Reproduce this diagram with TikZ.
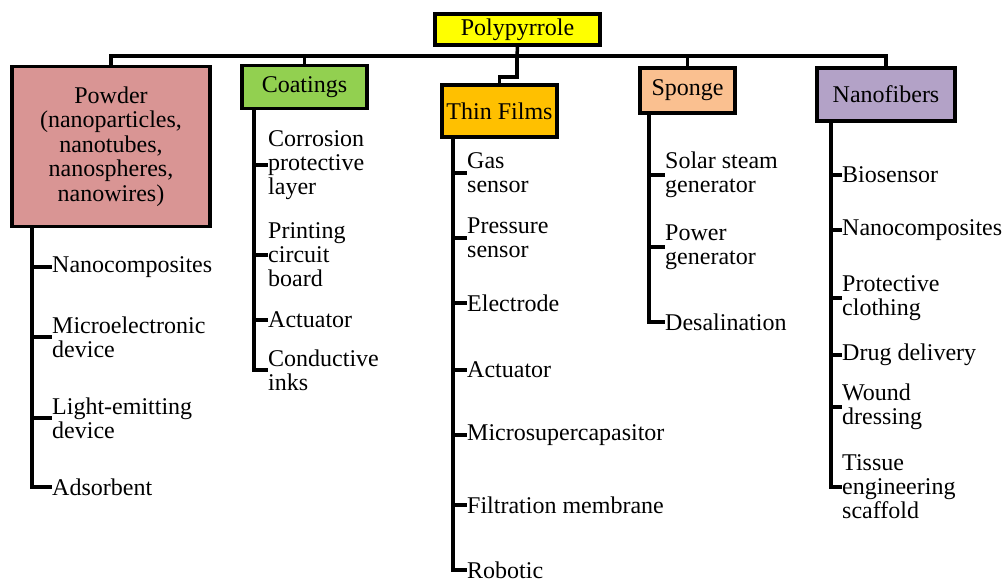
\documentclass[tikz,border=0pt]{standalone}
\usepackage{fontspec}
\setmainfont{Liberation Serif}
\usepackage{tikz}
\usetikzlibrary{calc}
\definecolor{rootyellow}{HTML}{FFFF00}
\definecolor{powderpink}{HTML}{D99594}
\definecolor{coatgreen}{HTML}{92D050}
\definecolor{filmorange}{HTML}{FFC000}
\definecolor{spongepeach}{HTML}{FAC090}
\definecolor{fiberlilac}{HTML}{B3A2C7}
\tikzset{
  catbox/.style={draw, line width=3.5pt, inner sep=0pt, align=center, font=\fontsize{24}{24.5}\selectfont},
  leaf/.style={anchor=west, inner sep=0pt, align=left, font=\fontsize{24}{24}\selectfont},
  bus/.style={line width=3.5pt},
  branch/.style={line width=4.5pt}
}

\begin{document}
\begin{tikzpicture}[x=1pt, y=-1pt]
    \useasboundingbox (0,0) rectangle (1003,580);
    % categories
    \node(root)[catbox, fill=rootyellow, minimum width=165pt, minimum height=31pt] at (517.5,29.5) {Polypyrrole};
    \node(pw)[catbox, fill=powderpink, minimum width=198pt, minimum height=160pt] at (111,146.5) {Powder\\(nanoparticles,\\nanotubes,\\nanospheres,\\nanowires)};
    \node(co)[catbox, fill=coatgreen, minimum width=125pt, minimum height=43pt] at (304.5,87) {Coatings};
    \node(tf)[catbox, fill=filmorange, minimum width=115pt, minimum height=52pt] at (499.5,111) {Thin Films};
    \node(sp)[catbox, fill=spongepeach, minimum width=95pt, minimum height=45pt] at (687.5,90.5) {Sponge};
    \node(nf)[catbox, fill=fiberlilac, minimum width=138pt, minimum height=53pt] at (886,94.5) {Nanofibers};
    % bus
    \coordinate(bus) at (517,56);
    \draw[bus] (pw.north) |- (bus) -| (nf.north);
    \draw[bus] (co.north) -- (co.north |- bus);
    \draw[bus] (sp.north) -- (sp.north |- bus);
    \draw[bus] (root.south) -- (bus);
    \draw[bus] (bus) -- ++(0,21) -| (tf.north);
    % powder
    \node(pw1)[leaf] at (52,267) {Nanocomposites};
    \node(pw2)[leaf] at (52,337) {Microelectronic\\device};
    \node(pw3)[leaf] at (52,418) {Light-emitting\\device};
    \node(pw4)[leaf] at (52,487) {Adsorbent};
    \coordinate(pwr) at (32,228);
    \foreach \i in {1,...,4} \draw[branch] (pwr) |- (pw\i.west);
    % coatings
    \node(co1)[leaf] at (268,165) {Corrosion\\protective\\layer};
    \node(co2)[leaf] at (268,255) {Printing\\circuit\\board};
    \node(co3)[leaf] at (268,320) {Actuator};
    \node(co4)[leaf] at (268,370) {Conductive\\inks};
    \coordinate(cor) at (254,110);
    \foreach \i in {1,...,4} \draw[branch] (cor) |- (co\i.west);
    % thin films
    \node(tf1)[leaf] at (467,173) {Gas\\sensor};
    \node(tf2)[leaf] at (467,238) {Pressure\\sensor};
    \node(tf3)[leaf] at (467,303) {Electrode};
    \node(tf4)[leaf] at (467,370) {Actuator};
    \node(tf5)[leaf] at (467,435) {Microsupercapasitor};
    \node(tf6)[leaf] at (467,505) {Filtration membrane};
    \node(tf7)[leaf] at (467,570) {Robotic};
    \coordinate(tfr) at (453,139);
    \foreach \i in {1,...,7} \draw[branch] (tfr) |- (tf\i.west);
    % sponge
    \node(sp1)[leaf] at (665,175) {Solar steam\\generator};
    \node(sp2)[leaf] at (665,247) {Power\\generator};
    \node(sp3)[leaf] at (665,322) {Desalination};
    \coordinate(spr) at (649,115);
    \foreach \i in {1,...,3} \draw[branch] (spr) |- (sp\i.west);
    % nanofibers
    \node(nf1)[leaf] at (842,175) {Biosensor};
    \node(nf2)[leaf] at (842,230) {Nanocomposites};
    \node(nf3)[leaf] at (842,298) {Protective\\clothing};
    \node(nf4)[leaf] at (842,355) {Drug delivery};
    \node(nf5)[leaf] at (842,407) {Wound\\dressing};
    \node(nf6)[leaf] at (842,487) {Tissue\\engineering\\scaffold};
    \coordinate(nfr) at (831,123);
    \foreach \i in {1,...,6} \draw[branch] (nfr) |- (nf\i.west);
\end{tikzpicture}
\end{document}
